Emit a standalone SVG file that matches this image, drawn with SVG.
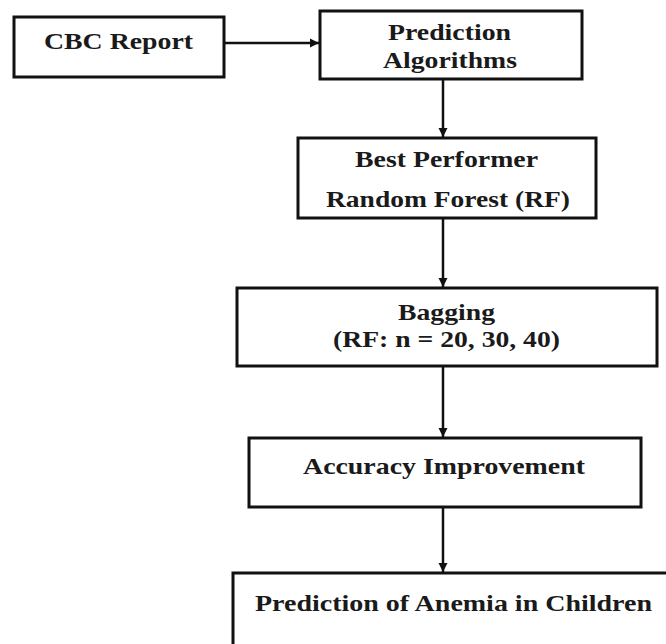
<svg xmlns="http://www.w3.org/2000/svg" width="666" height="644" viewBox="0 0 666 644">
<style>
.box{fill:#fff;stroke:#111;stroke-width:3}
.t{font-family:"Liberation Serif","Times New Roman",serif;font-weight:bold;font-size:23px;fill:#1a1a1a}
.c{stroke:#111;stroke-width:2.5;fill:none}
</style>
<defs>
<marker id="ah" markerUnits="userSpaceOnUse" markerWidth="10" markerHeight="10" refX="9" refY="5" orient="auto">
<path d="M0,0.5 L9,5 L0,9.5 Z" fill="#111"/>
</marker>
</defs>
<rect width="666" height="644" fill="#fff"/>
<g id="connectors">
<line class="c" x1="225" y1="43" x2="319" y2="43" marker-end="url(#ah)"/>
<line class="c" x1="443" y1="80" x2="443" y2="137" marker-end="url(#ah)"/>
<line class="c" x1="443" y1="219" x2="443" y2="287" marker-end="url(#ah)"/>
<line class="c" x1="443" y1="367" x2="443" y2="437" marker-end="url(#ah)"/>
<line class="c" x1="443" y1="508" x2="443" y2="572" marker-end="url(#ah)"/>
</g>
<g id="cbc">
<rect class="box" x="14" y="17" width="210" height="60"/>
<text class="t" x="44" y="49" textLength="149" lengthAdjust="spacingAndGlyphs">CBC Report</text>
</g>
<g id="prediction">
<rect class="box" x="320" y="11" width="262" height="68"/>
<text class="t" x="388" y="40" textLength="123" lengthAdjust="spacingAndGlyphs">Prediction</text>
<text class="t" x="383" y="68" textLength="134" lengthAdjust="spacingAndGlyphs">Algorithms</text>
</g>
<g id="best">
<rect class="box" x="298" y="138" width="298" height="80"/>
<text class="t" x="355" y="167" textLength="183" lengthAdjust="spacingAndGlyphs">Best Performer</text>
<text class="t" x="326" y="207" textLength="244" lengthAdjust="spacingAndGlyphs">Random Forest (RF)</text>
</g>
<g id="bagging">
<rect class="box" x="237" y="288" width="420" height="78"/>
<text class="t" x="398" y="320" textLength="97" lengthAdjust="spacingAndGlyphs">Bagging</text>
<text class="t" x="333" y="347" textLength="227" lengthAdjust="spacingAndGlyphs">(RF: n = 20, 30, 40)</text>
</g>
<g id="accuracy">
<rect class="box" x="249" y="438" width="392" height="69"/>
<text class="t" x="303" y="474" textLength="282" lengthAdjust="spacingAndGlyphs">Accuracy Improvement</text>
</g>
<g id="anemia">
<rect class="box" x="233" y="573" width="440" height="80"/>
<text class="t" x="255" y="611" textLength="397" lengthAdjust="spacingAndGlyphs">Prediction of Anemia in Children</text>
</g>
</svg>
